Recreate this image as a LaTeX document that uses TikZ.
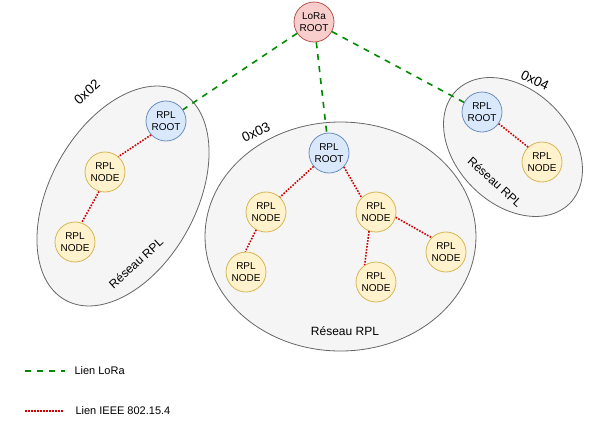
\documentclass[tikz,border=0pt]{standalone}
\usepackage{fontspec}
\setmainfont{Liberation Sans}
\definecolor{netline}{HTML}{666666}
\definecolor{netfill}{HTML}{F5F5F5}
\definecolor{blueline}{HTML}{6C8EBF}
\definecolor{bluefill}{HTML}{DAE8FC}
\definecolor{yelline}{HTML}{D6B656}
\definecolor{yelfill}{HTML}{FFF2CC}
\definecolor{pinkline}{HTML}{B85450}
\definecolor{pinkfill}{HTML}{F8CECC}
\definecolor{loragreen}{HTML}{008A00}
\definecolor{ieeered}{HTML}{CC0000}
\begin{document}
\begin{tikzpicture}[x=1pt,y=1pt,
 net/.style={draw=netline, fill=netfill, line width=0.8pt},
 rnode/.style={circle, minimum size=40pt, inner sep=0pt, align=center, font=\fontsize{10}{12.5}\selectfont, line width=0.8pt},
 rootb/.style={rnode, draw=blueline, fill=bluefill},
 nodey/.style={rnode, draw=yelline, fill=yelfill},
 lora/.style={rnode, draw=pinkline, fill=pinkfill},
 loralink/.style={draw=loragreen, line width=1.6pt, dash pattern=on 6pt off 6pt},
 ieeelink/.style={draw=ieeered, line width=1.6pt, dash pattern=on 1.6pt off 1.4pt},
 lbl/.style={font=\fontsize{12}{14}\selectfont},
 hexlbl/.style={font=\fontsize{13.5}{15}\selectfont},
 leg/.style={font=\fontsize{11}{13}\selectfont, anchor=west},
]
\useasboundingbox (0,0) rectangle (611,-421);

% network ellipses
\draw[net, rotate around={61:(123,-196)}] (123,-196) ellipse [x radius=119pt, y radius=73pt];
\draw[net] (340.5,-236.5) ellipse [x radius=135.5pt, y radius=114.5pt];
\draw[net, rotate around={-45:(513,-147)}] (513,-147) ellipse [x radius=80pt, y radius=57pt];

% labels
\node[hexlbl, rotate=41] (h2) at (87,-92) {0x02};
\node[hexlbl, rotate=25] (h3) at (256,-132) {0x03};
\node[hexlbl, rotate=-25] (h4) at (535,-80) {0x04};
\node[lbl, rotate=42] (r2) at (136,-263) {Réseau RPL};
\node[lbl] (r3) at (345,-331) {Réseau RPL};
\node[lbl, rotate=-42] (r4) at (495,-182) {Réseau RPL};

% nodes
\node[lora] (lr) at (314,-22) {LoRa\\ROOT};
\node[rootb] (a0) at (166,-121) {RPL\\ROOT};
\node[nodey] (a1) at (105,-172) {RPL\\NODE};
\node[nodey] (a2) at (75,-242) {RPL\\NODE};
\node[rootb] (b0) at (329,-153) {RPL\\ROOT};
\node[nodey] (b1) at (266,-212) {RPL\\NODE};
\node[nodey] (b2) at (246,-272) {RPL\\NODE};
\node[nodey] (b3) at (376,-212) {RPL\\NODE};
\node[nodey] (b4) at (376,-282) {RPL\\NODE};
\node[nodey] (b5) at (446,-252) {RPL\\NODE};
\node[rootb] (c0) at (482,-112) {RPL\\ROOT};
\node[nodey] (c1) at (542,-162) {RPL\\NODE};

% LoRa links
\draw[loralink] (lr) -- (a0);
\draw[loralink] (lr) -- (b0);
\draw[loralink] (lr) -- (c0);

% IEEE links
\draw[ieeelink] (a0.223) -- (a1.49);
\draw[ieeelink] (a1.253) -- (a2.71);
\draw[ieeelink] (b0.221) -- (b1.47);
\draw[ieeelink] (b1.241) -- (b2.92);
\draw[ieeelink] (b0.-43) -- (b3.135);
\draw[ieeelink] (b3.250) -- (b4.124);
\draw[ieeelink] (b3.-15) -- (b5.135);
\draw[ieeelink] (c0.-35) -- (c1.133);

% legend
\coordinate (g1) at (25,-371);
\coordinate (g2) at (65,-371);
\coordinate (e1) at (25,-411);
\coordinate (e2) at (63,-411);
\draw[loralink] (g1) -- (g2);
\draw[ieeelink] (e1) -- (e2);
\node[leg] (lg) at (71,-371) {Lien LoRa};
\node[leg] (le) at (72,-411) {Lien IEEE 802.15.4};
\end{tikzpicture}
\end{document}
